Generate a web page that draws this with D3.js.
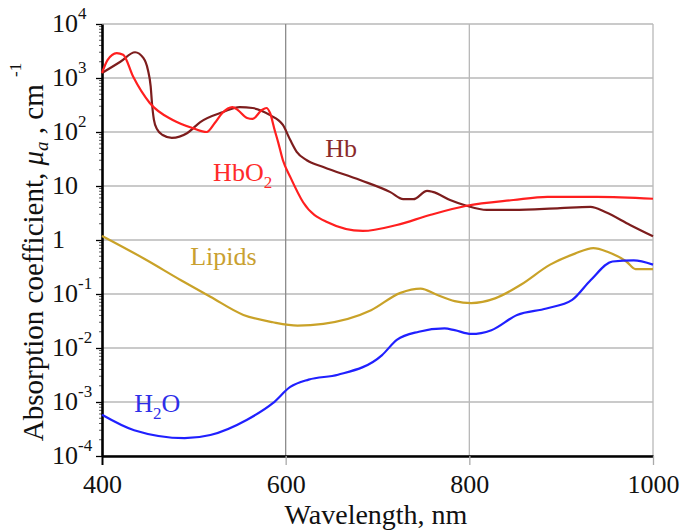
<!DOCTYPE html>
<html>
<head>
<meta charset="utf-8">
<script src="https://cdn.jsdelivr.net/npm/d3@7"></script>
<style>
  body { margin: 0; background: #fff; }
  svg text { font-family: "Liberation Serif", "Times New Roman", serif; }
</style>
</head>
<body>
<div id="chart"></div>
<script>
// wavelength (nm) and absorption coefficient (cm^-1)
const hbWl = [400, 420, 436, 445, 450, 453, 454.5, 456.5, 460, 466, 476, 493, 507, 532, 550, 564, 583, 597, 605, 612, 623, 641, 681, 714, 728, 739, 754, 760, 779, 797, 819, 848, 899, 932, 948, 975, 1000];
const hbVal = [1240, 2000, 3000, 2350, 1410, 700, 330, 170, 112, 88, 78, 96, 153, 235, 290, 278, 205, 135, 71, 43, 30, 22.5, 12.9, 7.7, 5.7, 5.7, 8.1, 7.8, 5.5, 4.3, 3.6, 3.6, 3.9, 4.1, 3.3, 1.9, 1.17];

const hbo2Wl = [400, 406, 416, 423, 434, 452, 477, 499, 514, 523, 531, 542, 548, 558, 564, 574, 579, 583, 588, 592, 597, 605, 619, 645, 684, 721, 757, 797, 848, 885, 939, 1000];
const hbo2Val = [1240, 2150, 2900, 2700, 1050, 345, 167, 118, 100, 148, 225, 290, 255, 182, 175, 255, 278, 225, 109, 63, 30, 14.7, 5.0, 2.15, 1.47, 1.9, 2.9, 4.3, 5.5, 6.3, 6.3, 5.8];

const lipidWl = [400, 446, 486, 518, 554, 586, 613, 641, 693, 725, 747, 764, 784, 802, 828, 856, 888, 915, 935, 951, 971, 981, 1000];
const lipidVal = [1.19, 0.45, 0.18, 0.089, 0.041, 0.030, 0.026, 0.028, 0.050, 0.105, 0.126, 0.098, 0.074, 0.068, 0.083, 0.148, 0.35, 0.56, 0.71, 0.60, 0.40, 0.29, 0.29];

const waterWl = [400, 435, 490, 518, 558, 586, 605, 625, 657, 705, 721, 745, 773, 784, 802, 824, 852, 884, 912, 932, 956, 979, 1000];
const waterVal = [5.8e-4, 3.0e-4, 2.14e-4, 2.45e-4, 4.7e-4, 9.5e-4, 1.9e-3, 2.6e-3, 3.2e-3, 7.4e-3, 0.0141, 0.020, 0.023, 0.0214, 0.0182, 0.0214, 0.041, 0.054, 0.078, 0.18, 0.40, 0.42, 0.35];

const xTicks = [400, 600, 800, 1000];
const yTicks = [1e4, 1e3, 1e2, 10, 1, 1e-1, 1e-2, 1e-3, 1e-4];
const yTickBase = ["10", "10", "10", "10", "1", "10", "10", "10", "10"];
const yTickExp = ["4", "3", "2", "", "", "-1", "-2", "-3", "-4"];

const series = [
  { name: "Hb", sub: "", wl: hbWl, val: hbVal, color: "#7d1d1d", labelColor: "#8a2a2a", lx: 643, ly: 35 },
  { name: "HbO", sub: "2", wl: hbo2Wl, val: hbo2Val, color: "#ff1f1f", labelColor: "#ff2a2a", lx: 521, ly: 12.3 },
  { name: "Lipids", sub: "", wl: lipidWl, val: lipidVal, color: "#c9a228", labelColor: "#c9a030", lx: 496, ly: 0.35 },
  { name: "H", sub: "2", tail: "O", wl: waterWl, val: waterVal, color: "#2020ff", labelColor: "#2e2ee8", lx: 435, ly: 6.5e-4 }
];

const width = 683, height = 530;
const margin = { top: 24, right: 30, bottom: 74, left: 102 };
const innerW = width - margin.left - margin.right;
const innerH = height - margin.top - margin.bottom;

const svg = d3.select("#chart").append("svg")
  .attr("width", width)
  .attr("height", height);

const g = svg.append("g")
  .attr("transform", `translate(${margin.left},${margin.top})`);

const x = d3.scaleLinear().domain([400, 1000]).range([0, innerW]);
const y = d3.scaleLog().domain([1e-4, 1e4]).range([innerH, 0]);

// grid
g.append("g").selectAll("line")
  .data(yTicks)
  .join("line")
  .attr("x1", 0).attr("x2", innerW)
  .attr("y1", d => y(d)).attr("y2", d => y(d))
  .attr("stroke", "#b8b8b8")
  .attr("stroke-width", 1.3);

g.append("g").selectAll("line")
  .data(xTicks.slice(1))
  .join("line")
  .attr("x1", d => x(d)).attr("x2", d => x(d))
  .attr("y1", 0).attr("y2", innerH)
  .attr("stroke", (d, i) => i === 0 ? "#8c8c8c" : "#b8b8b8")
  .attr("stroke-width", 1.3);

// minor ticks on the y axis
const minor = [];
for (let e = -4; e < 4; e++) for (let m = 2; m <= 9; m++) minor.push(m * Math.pow(10, e));
g.append("g").selectAll("line")
  .data(minor)
  .join("line")
  .attr("x1", -3).attr("x2", 0)
  .attr("y1", d => y(d)).attr("y2", d => y(d))
  .attr("stroke", "#333")
  .attr("stroke-width", 0.8);

// axes
const xAxisG = g.append("g")
  .attr("transform", `translate(0,${innerH})`)
  .call(d3.axisBottom(x).tickValues(xTicks).tickSize(9).tickSizeOuter(0).tickPadding(10).tickFormat(d3.format("d")));
xAxisG.select(".domain").attr("stroke", "#000").attr("stroke-width", 2.6);
xAxisG.selectAll(".tick line").attr("stroke", (d, i) => i === 0 ? "#000" : "#aaa").attr("stroke-width", (d, i) => i === 0 ? 2 : 1.3);
xAxisG.selectAll(".tick text")
  .attr("font-family", "'Liberation Serif', 'Times New Roman', serif")
  .attr("font-size", 26)
  .attr("fill", "#111");

const yAxisG = g.append("g")
  .call(d3.axisLeft(y).tickValues(yTicks).tickSize(6).tickSizeOuter(0).tickFormat(""));
yAxisG.select(".domain").attr("stroke", "#000").attr("stroke-width", 2.6);
yAxisG.selectAll(".tick line").attr("stroke", "#000").attr("stroke-width", 1.3);

// y tick labels with superscripts
const yLab = svg.append("g").selectAll("text")
  .data(yTicks)
  .join("text")
  .attr("x", 52)
  .attr("y", d => margin.top + y(d) + 8)
  .attr("font-size", 26)
  .attr("fill", "#111");
yLab.append("tspan").text((d, i) => yTickBase[i]);
yLab.append("tspan")
  .attr("font-size", 17)
  .attr("dy", -13)
  .text((d, i) => yTickExp[i]);

// curves
const line = d3.line()
  .x(d => x(d[0]))
  .y(d => y(d[1]))
  .curve(d3.curveMonotoneX);

g.append("g").selectAll("path")
  .data(series)
  .join("path")
  .attr("d", s => line(s.wl.map((w, i) => [w, s.val[i]])))
  .attr("fill", "none")
  .attr("stroke", s => s.color)
  .attr("stroke-width", 2.2)
  .attr("stroke-linejoin", "round");

// curve labels
const lab = g.append("g").selectAll("text")
  .data(series)
  .join("text")
  .attr("x", s => x(s.lx))
  .attr("y", s => y(s.ly))
  .attr("font-size", 26)
  .attr("fill", s => s.labelColor);
lab.append("tspan").text(s => s.name);
lab.filter(s => s.sub).append("tspan")
  .attr("font-size", 17)
  .attr("dy", 7)
  .text(s => s.sub);
lab.filter(s => s.tail).append("tspan")
  .attr("dy", -7)
  .text(s => s.tail);

// axis titles
svg.append("text")
  .attr("x", 376)
  .attr("y", 524)
  .attr("text-anchor", "middle")
  .attr("font-size", 28)
  .attr("fill", "#111")
  .text("Wavelength, nm");

const yTitle = svg.append("text")
  .attr("transform", "translate(43,252) rotate(-90)")
  .attr("text-anchor", "middle")
  .attr("font-size", 29)
  .attr("fill", "#111");
yTitle.append("tspan").text("Absorption coefficient, ");
yTitle.append("tspan").attr("font-style", "italic").text("μ");
yTitle.append("tspan").attr("font-style", "italic").attr("font-size", 19).attr("dy", 5).text("a");
yTitle.append("tspan").attr("dy", -5).text(" , cm ");
yTitle.append("tspan").attr("font-size", 17).attr("dy", -22).text("-1");
</script>
</body>
</html>
